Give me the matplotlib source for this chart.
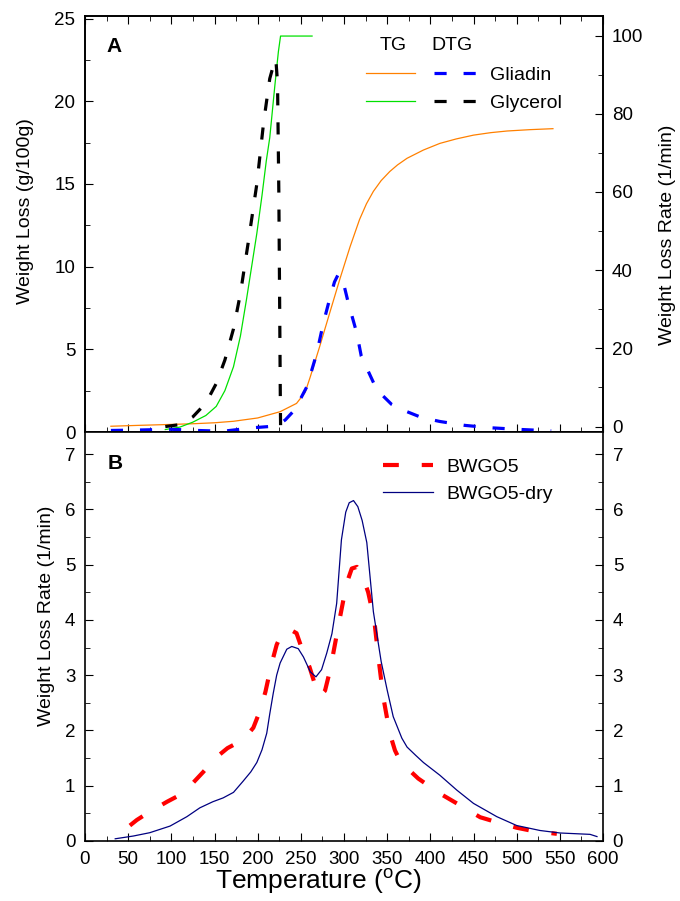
import matplotlib
matplotlib.use("Agg")
import matplotlib.pyplot as plt
from matplotlib.ticker import MultipleLocator

plt.rcParams['font.family'] = ['Liberation Sans', 'DejaVu Sans']
plt.rcParams['mathtext.fontset'] = 'custom'
plt.rcParams['mathtext.rm'] = 'Liberation Sans'

# --- panel A: TG (left axis) and DTG (right axis) of gliadin and glycerol ---
gli_tg_t = [30, 60, 100, 125, 150, 172, 200, 226, 245, 255, 261, 272, 284, 295.5, 307, 318,
            326, 334, 343, 353, 362, 373, 392, 411, 430, 450, 470, 489, 515, 542]
gli_tg = [0.35, 0.40, 0.46, 0.50, 0.56, 0.65, 0.85, 1.23, 1.73, 2.4, 3.35, 5.2, 7.3, 9.3, 11.2, 12.85,
          13.8, 14.55, 15.2, 15.75, 16.15, 16.55, 17.05, 17.45, 17.72, 17.95, 18.1, 18.2, 18.28, 18.34]

gli_dtg_t = [30, 60, 100, 130, 160, 195, 213, 225, 232, 243, 257, 268.5, 276, 284, 289, 293,
             297.4, 305, 314.8, 320, 338, 355, 373, 390, 411, 440, 469, 500, 540]
gli_dtg = [-1.0, -0.9, -0.7, -1.0, -1.2, -0.3, 0.0, 0.6, 1.7, 4.3, 10.2, 18.8, 26.4, 33.2, 37.0, 38.8,
           38.5, 31.6, 23.9, 18.0, 9.4, 5.7, 3.8, 2.3, 1.3, 0.3, -0.3, -0.7, -1.1]

gly_tg_t = [93, 110, 125, 140, 152, 162, 172, 180, 187, 193, 199, 205, 210, 214, 220, 224, 226.5, 263]
gly_tg = [0.15, 0.3, 0.6, 1.0, 1.55, 2.5, 3.95, 5.8, 8.0, 10.0, 12.0, 14.3, 16.4, 17.8, 21.0, 23.0, 23.94, 23.94]

gly_dtg_t = [93, 110, 125, 140, 152, 162, 172, 180, 189, 199, 207, 214, 219, 221, 223, 224.5,
             225.5, 226.3, 226.6, 232, 240]
gly_dtg = [0, 0.5, 2.5, 6, 11, 17, 25, 34, 47, 62, 78, 89, 93, 94, 88, 60,
           30, 5, -1, -1.2, -1.2]

# --- panel B: DTG of the films ---
bw_t = [52, 60, 72, 95, 112, 125, 137, 151, 165, 177, 187, 195, 203, 209, 216, 222, 228, 236,
        245, 253, 260, 266, 272, 278, 284, 290, 296, 303, 309, 315, 321, 328, 335, 340, 345.5,
        353, 359, 365, 373, 386, 411, 430.7, 457.7, 477, 500, 519, 546.5]
bw = [0.28, 0.38, 0.5, 0.71, 0.85, 1.05, 1.25, 1.5, 1.68, 1.78, 1.9, 2.05, 2.37, 2.7, 3.2, 3.55,
      3.76, 3.84, 3.76, 3.4, 3.15, 2.85, 2.62, 2.72, 3.1, 3.6, 4.1, 4.66, 4.93, 4.96, 4.82, 4.5,
      4.0, 3.3, 2.6, 1.95, 1.64, 1.45, 1.32, 1.13, 0.86, 0.68, 0.43, 0.34, 0.24, 0.18, 0.13]

bwdry_t = [35, 56, 75, 98.5, 118, 133, 148, 160, 172, 183, 192, 199, 205, 210.5, 214, 218, 222,
           226, 233.7, 239.5, 247, 253, 261, 267.5, 274, 280, 286, 291.5, 297, 302, 306, 311,
           316, 321, 326.4, 334, 343, 350, 357, 367, 373, 383, 392, 411, 430.7, 450, 477, 500,
           527, 550, 585, 593]
bwdry = [0.04, 0.09, 0.15, 0.27, 0.44, 0.6, 0.71, 0.78, 0.88, 1.08, 1.25, 1.42, 1.65, 1.95, 2.3,
         2.67, 3.0, 3.22, 3.47, 3.52, 3.48, 3.33, 3.06, 2.97, 3.1, 3.4, 3.75, 4.3, 5.45, 5.95,
         6.12, 6.16, 6.05, 5.8, 5.4, 4.15, 3.25, 2.73, 2.25, 1.86, 1.7, 1.55, 1.42, 1.19, 0.92,
         0.68, 0.44, 0.28, 0.19, 0.145, 0.12, 0.08]

fig = plt.figure(figsize=(6.8, 9.01), dpi=100)
ax1 = fig.add_axes([0.125, 0.5205, 0.7618, 0.4617])
ax1r = ax1.twinx()
ax2 = fig.add_axes([0.125, 0.0666, 0.7618, 0.4539])

tk = 13.5
l_or, = ax1.plot(gli_tg_t, gli_tg, color='#ff8000', lw=0.9)
l_gr, = ax1.plot(gly_tg_t, gly_tg, color='#00e000', lw=0.9)
l_bl, = ax1r.plot(gli_dtg_t, gli_dtg, color='#0000ff', lw=2.3, dashes=(3.8, 5.3))
l_bk, = ax1r.plot(gly_dtg_t, gly_dtg, color='black', lw=2.3, dashes=(3.8, 5.3))

ax1.set_xlim(0, 600)
ax1.set_ylim(0, 25.15)
ax1r.set_ylim(-1.4, 105)
ax1.yaxis.set_major_locator(MultipleLocator(5))
ax1.yaxis.set_minor_locator(MultipleLocator(2.5))
ax1r.yaxis.set_major_locator(MultipleLocator(20))
ax1r.yaxis.set_minor_locator(MultipleLocator(10))
ax1.xaxis.set_major_locator(MultipleLocator(50))
ax1.xaxis.set_minor_locator(MultipleLocator(25))
ax1.tick_params(axis='x', which='both', direction='in', top=True, bottom=True, labelbottom=False)
ax1.tick_params(axis='y', which='both', direction='in', right=False, labelsize=tk, pad=7)
ax1r.tick_params(axis='y', which='both', direction='in', labelsize=tk, pad=6.5)
ax1.tick_params(which='major', length=5.5)
ax1.tick_params(which='minor', length=3.5)
ax1r.tick_params(which='major', length=5.5)
ax1r.tick_params(which='minor', length=3.5)

ax1.set_ylabel('Weight Loss (g/100g)', fontsize=14)
ax1.yaxis.set_label_coords(-0.098, 0.531)
ax1r.set_ylabel('Weight Loss Rate (1/min)', fontsize=14)
ax1r.yaxis.set_label_coords(1.108, 0.474)

ax1.text(0.057, 0.926, 'A', transform=ax1.transAxes, fontsize=15, fontweight='bold',
         ha='center', va='center')
ax1r.text(0.5955, 0.930, 'TG', transform=ax1r.transAxes, fontsize=14, ha='center', va='center')
ax1r.text(0.7075, 0.930, 'DTG', transform=ax1r.transAxes, fontsize=14, ha='center', va='center')
ax1r.legend([l_or, l_gr, l_bl, l_bk], ['', '', 'Gliadin', 'Glycerol'], ncol=2, frameon=False,
            fontsize=14, loc='upper left', bbox_to_anchor=(0.5425, 0.879), borderpad=0,
            borderaxespad=0, handlelength=2.5, handletextpad=0.4, columnspacing=0.6,
            labelspacing=0.55)

# --- panel B ---
ax2.plot(bw_t, bw, color='#ff0000', lw=3.0, dashes=(3.8, 5.5), label='BWGO5')
ax2.plot(bwdry_t, bwdry, color='#000080', lw=0.9, label='BWGO5-dry')
ax2.set_xlim(0, 600)
ax2.set_ylim(0, 7.4)
ax2.xaxis.set_major_locator(MultipleLocator(50))
ax2.xaxis.set_minor_locator(MultipleLocator(25))
ax2.yaxis.set_major_locator(MultipleLocator(1))
ax2.yaxis.set_minor_locator(MultipleLocator(0.5))
ax2.tick_params(which='both', direction='in', left=True, right=True, labelright=True,
                labelsize=tk)
ax2.tick_params(axis='x', pad=7)
ax2.tick_params(axis='y', pad=7)
ax2.tick_params(which='major', length=5.5)
ax2.tick_params(which='minor', length=3.5)
ax2.set_ylabel('Weight Loss Rate (1/min)', fontsize=14)
ax2.yaxis.set_label_coords(-0.058, 0.551)
ax2.set_xlabel(r'Temperature ($^{\rm o}$C)', fontsize=19)
ax2.xaxis.set_label_coords(0.45, -0.062)
ax2.text(0.058, 0.924, 'B', transform=ax2.transAxes, fontsize=15, fontweight='bold',
         ha='center', va='center')
ax2.legend(frameon=False, fontsize=14, loc='upper left', bbox_to_anchor=(0.575, 0.935),
           borderpad=0, borderaxespad=0, handlelength=2.6, handletextpad=0.65,
           labelspacing=0.45)

for a in (ax1, ax1r, ax2):
    for s in a.spines.values():
        s.set_linewidth(1.2)

fig.savefig('out.png', dpi=100)
